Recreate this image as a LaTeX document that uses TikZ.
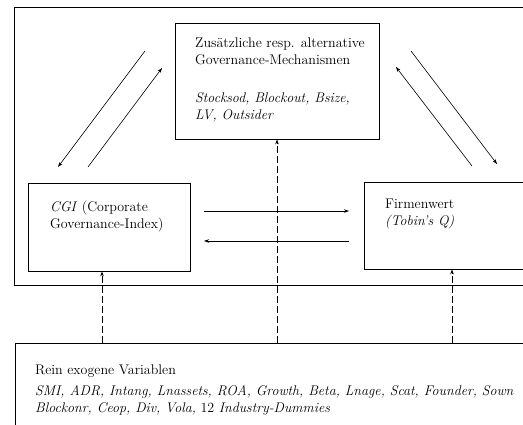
\documentclass[tikz,border=0pt]{standalone}
\usetikzlibrary{arrows.meta}
\begin{document}
\begin{tikzpicture}[x=1pt,y=-1pt,
  box/.style={draw,line width=0.8pt,inner sep=0pt},
  txt/.style={anchor=north west,align=left,inner sep=0pt,font=\fontsize{14}{17}\selectfont},
  pfeil/.style={-{Stealth[length=5pt,width=3.5pt]},line width=0.6pt},
  strich/.style={pfeil,dash pattern=on 7pt off 3pt}]
\useasboundingbox (0,0) rectangle (523,425);
% Rahmen um die drei oberen Kaesten
\draw[line width=0.8pt] (14,7) rectangle (580,285);
% Kaesten
\node[box,minimum width=204pt,minimum height=116pt] (mech) at (277,81) {};
\node[box,minimum width=162pt,minimum height=88pt] (cgi) at (109,227) {};
\node[box,minimum width=176pt,minimum height=87pt] (firm) at (452,225.5) {};
\node[box,minimum width=580pt,minimum height=120pt,anchor=north west] (exo) at (15,343) {};
% Texte
\node[txt] (mechtext) at (195,38) {Zus\"atzliche resp. alternative\\Governance-Mechanismen\\[21pt]
  \textit{Stocksod, Blockout, Bsize,}\\\textit{LV, Outsider}};
\node[txt] (cgitext) at (50,201) {\textit{CGI} (Corporate\\Governance-Index)};
\node[txt] (firmtext) at (385,199) {Firmenwert\\\textit{(Tobin's Q)}};
\node[txt] (exotext) at (35,365) {Rein exogene Variablen\\[4pt]
  \textit{SMI, ADR, Intang, Lnassets, ROA, Growth, Beta, Lnage, Scat, Founder, Sown}\\
  \textit{Blockonr, Ceop, Div, Vola,} 12 \textit{Industry-Dummies}};
% schraege Pfeile
\coordinate (l1) at (145,51);
\coordinate (l2) at (58,167);
\coordinate (l3) at (88,167);
\coordinate (l4) at (162,68);
\coordinate (r1) at (411,51);
\coordinate (r2) at (497,164);
\coordinate (r3) at (472,166);
\coordinate (r4) at (396,67);
\draw[pfeil] (l1) -- (l2);
\draw[pfeil] (l3) -- (l4);
\draw[pfeil] (r1) -- (r2);
\draw[pfeil] (r3) -- (r4);
% waagrechte Pfeile
\coordinate (h1) at (204,211);
\coordinate (h2) at (349,211);
\coordinate (h3) at (349,241);
\coordinate (h4) at (204,241);
\draw[pfeil] (h1) -- (h2);
\draw[pfeil] (h3) -- (h4);
% exogene Einfluesse
\draw[strich] ([xshift=-7pt]cgi.south |- exo.north) -- ([xshift=-7pt]cgi.south);
\draw[strich] (exo.north -| mech.south) -- (mech.south);
\draw[strich] (exo.north -| firm.south) -- (firm.south);
\end{tikzpicture}
\end{document}
